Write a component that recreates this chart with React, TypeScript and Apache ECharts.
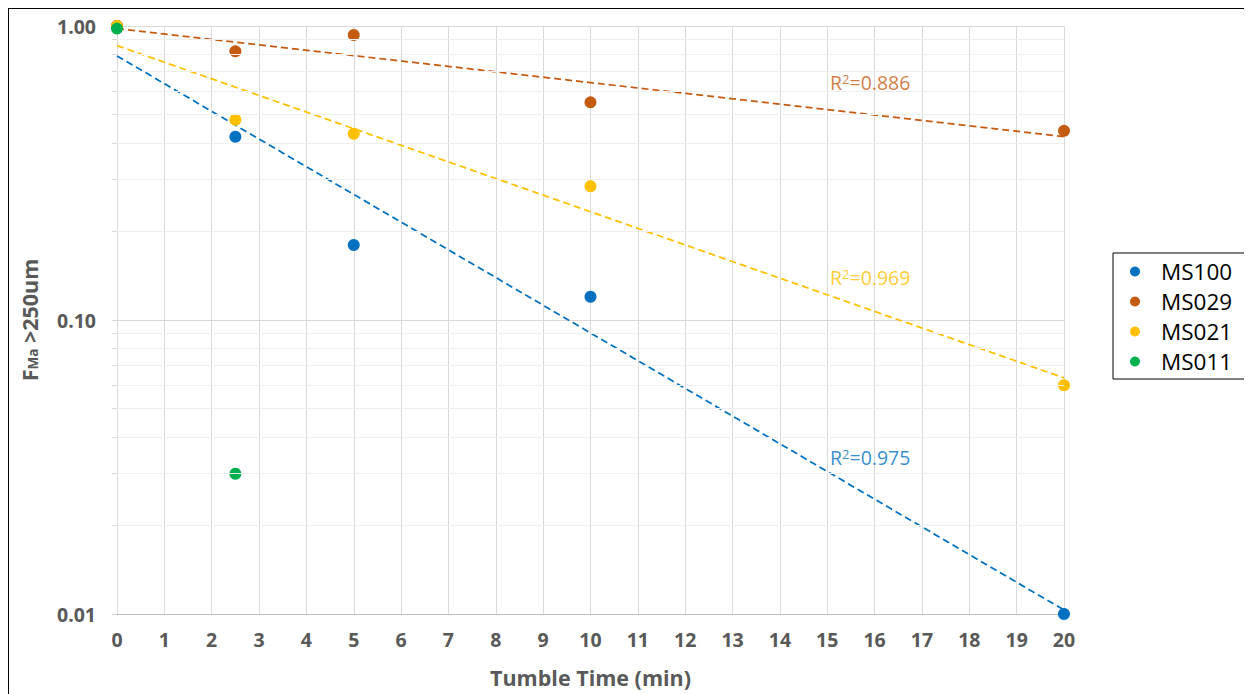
import React, { useEffect, useRef } from "react";
import * as echarts from "echarts";

// Tumble time (min) at which each sample was measured
const tumbleTimes = [0, 2.5, 5, 10, 20];
const greenTimes = [0, 2.5];

// Mass fraction retained above 250 um
const ms100 = [1.0, 0.42, 0.18, 0.12, 0.01];
const ms029 = [1.0, 0.82, 0.932, 0.55, 0.44];
const ms021 = [1.0, 0.48, 0.43, 0.285, 0.06];
const ms011 = [0.98, 0.03];

const seriesNames = ["MS100", "MS029", "MS021", "MS011"];
const seriesColors = ["#0070C0", "#C55A11", "#FFC000", "#00B050"];

// Y-axis tick values (log scale, decades plus 2..9 minors)
const majorTicks = [0.01, 0.1, 1];
const minorTicks = [
  0.02, 0.03, 0.04, 0.05, 0.06, 0.07, 0.08, 0.09,
  0.2, 0.3, 0.4, 0.5, 0.6, 0.7, 0.8, 0.9,
];

// Where the R² annotations sit (x in minutes, y in fraction)
const r2Anchors: [number, number][] = [
  [15.06, 0.034],
  [15.06, 0.64],
  [15.06, 0.14],
];

const FONT = "'Open Sans', Lato, sans-serif";
const AXIS_GREY = "#595959";

// Least-squares exponential fit y = a * 10^(b x), with R²
function expFit(xs: number[], ys: number[]) {
  const n = xs.length;
  const ly = ys.map((v) => Math.log10(v));
  const mx = xs.reduce((s, v) => s + v, 0) / n;
  const my = ly.reduce((s, v) => s + v, 0) / n;
  let sxx = 0, sxy = 0, syy = 0;
  for (let i = 0; i < n; i++) {
    sxx += (xs[i] - mx) ** 2;
    sxy += (xs[i] - mx) * (ly[i] - my);
    syy += (ly[i] - my) ** 2;
  }
  const b = sxy / sxx;
  const c = my - b * mx;
  const r2 = (sxy * sxy) / (sxx * syy);
  const x0 = Math.min(...xs);
  const x1 = Math.max(...xs);
  return {
    line: [
      [x0, Math.pow(10, c + b * x0)],
      [x1, Math.pow(10, c + b * x1)],
    ],
    r2,
  };
}

export default function App() {
  const ref = useRef<HTMLDivElement>(null);

  useEffect(() => {
    if (!ref.current) return;
    const chart = echarts.init(ref.current, null, { renderer: "svg" });

    const pointSets = [
      tumbleTimes.map((t, i) => [t, ms100[i]]),
      tumbleTimes.map((t, i) => [t, ms029[i]]),
      tumbleTimes.map((t, i) => [t, ms021[i]]),
      greenTimes.map((t, i) => [t, ms011[i]]),
    ];
    const fits = [
      expFit(tumbleTimes, ms100),
      expFit(tumbleTimes, ms029),
      expFit(tumbleTimes, ms021),
    ];

    const trendSeries = fits.map((f, i) => ({
      type: "line",
      name: seriesNames[i] + " trend",
      data: f.line,
      symbol: "none",
      lineStyle: { color: seriesColors[i], width: 1.75, type: [7, 4] },
      z: 3,
      silent: true,
    }));

    const r2Series = fits.map((f, i) => ({
      type: "scatter",
      name: seriesNames[i] + " r2",
      data: [r2Anchors[i]],
      symbolSize: 0,
      silent: true,
      z: 5,
      label: {
        show: true,
        position: "right",
        distance: 0,
        formatter: "{r|R}{s|2}{r|=" + f.r2.toFixed(3) + "}",
        rich: {
          r: { color: seriesColors[i], fontFamily: FONT, fontSize: 19.5 },
          s: {
            color: seriesColors[i],
            fontFamily: FONT,
            fontSize: 13,
            verticalAlign: "top",
          },
        },
      },
    }));

    const scatterSeries = pointSets.map((d, i) => ({
      type: "scatter",
      name: seriesNames[i],
      data: d,
      symbol: "circle",
      symbolSize: 12,
      itemStyle: { color: seriesColors[i], opacity: 1 },
      z: 4,
    }));

    const minorGrid = {
      type: "line",
      name: "minor grid",
      data: [],
      silent: true,
      markLine: {
        silent: true,
        symbol: ["none", "none"],
        label: { show: false },
        lineStyle: { color: "#efefef", type: "solid", width: 1 },
        data: minorTicks.map((v) => ({ yAxis: v })),
      },
      z: 1,
    };

    const axisBase = {
      type: "log",
      logBase: 10,
      min: 0.01,
      max: 1,
    };

    chart.setOption({
      animation: false,
      grid: { left: 108, top: 17, width: 947, height: 588, containLabel: false },
      legend: {
        data: seriesNames,
        orient: "vertical",
        left: 1104,
        top: 244,
        backgroundColor: "#fff",
        borderColor: "#000",
        borderWidth: 1,
        padding: [7, 40, 6, 17],
        itemGap: 7,
        itemWidth: 10,
        itemHeight: 10,
        icon: "circle",
        textStyle: {
          fontFamily: FONT,
          fontSize: 22.5,
          color: "#000",
          padding: [0, 0, 0, 16],
        },
      },
      xAxis: {
        type: "value",
        min: 0,
        max: 20,
        interval: 1,
        name: "Tumble Time (min)",
        nameLocation: "middle",
        nameGap: 52,
        nameTextStyle: {
          fontFamily: FONT,
          fontSize: 21.5,
          fontWeight: "bold",
          color: AXIS_GREY,
        },
        axisLine: { show: true, lineStyle: { color: "#bfbfbf", width: 1 } },
        axisTick: { show: false },
        axisLabel: {
          fontFamily: FONT,
          fontSize: 19.5,
          fontWeight: "bold",
          color: AXIS_GREY,
          margin: 15,
        },
        splitLine: { show: true, lineStyle: { color: "#d9d9d9", width: 1 } },
      },
      yAxis: [
        {
          ...axisBase,
          name: "{f|F}{s|Ma}{f| >250um}",
          nameLocation: "middle",
          nameGap: 77,
          nameRotate: 90,
          nameTextStyle: {
            rich: {
              f: {
                fontFamily: FONT,
                fontSize: 21.5,
                fontWeight: "bold",
                color: AXIS_GREY,
              },
              s: {
                fontFamily: FONT,
                fontSize: 13.5,
                fontWeight: "bold",
                color: AXIS_GREY,
                verticalAlign: "bottom",
              },
            },
          },
          axisLine: { show: false },
          axisTick: { show: false },
          axisLabel: {
            fontFamily: FONT,
            fontSize: 19.5,
            fontWeight: "bold",
            color: AXIS_GREY,
            margin: 21,
            formatter: (v: number) => v.toFixed(2),
          },
          splitLine: { show: true, lineStyle: { color: "#d9d9d9", width: 1 } },
        },
        {
          ...axisBase,
          position: "left",
          axisLine: { show: false },
          axisLabel: { show: false },
          splitLine: { show: false },
          axisTick: {
            show: true,
            length: 5,
            lineStyle: { color: "#d9d9d9" },
            customValues: [...majorTicks, ...minorTicks],
          },
        },
      ],
      series: [minorGrid, ...trendSeries, ...scatterSeries, ...r2Series],
    });

    return () => chart.dispose();
  }, []);

  return (
    <div
      style={{
        width: 1245,
        height: 687,
        margin: "-1px 0 0 -1px",
        borderLeft: "2px solid #000",
        borderTop: "2px solid #000",
        boxSizing: "border-box",
        overflow: "hidden",
        background: "#fff",
      }}
    >
      <div ref={ref} style={{ width: 1243, height: 685 }} />
    </div>
  );
}
